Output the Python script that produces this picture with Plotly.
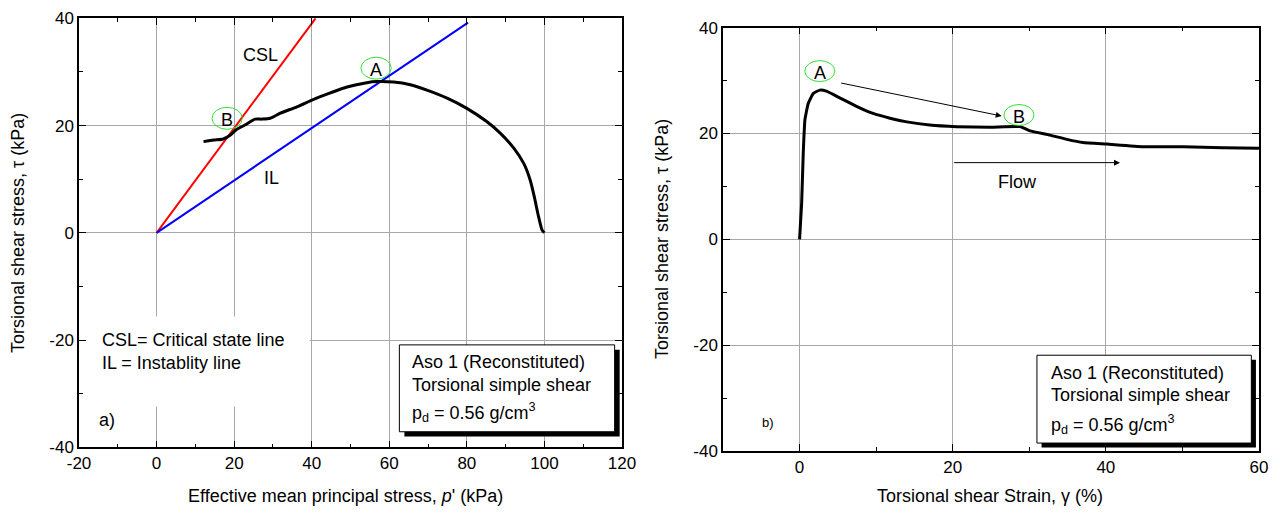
import plotly.graph_objects as go

# ---------------- data ----------------
# (a) stress path: effective mean principal stress p' (kPa) vs torsional shear stress tau (kPa)
path_p = [100.0, 99.4, 98.3, 97.4, 96.3, 94.7, 92.1, 88.6, 85.2, 80.0, 74.9, 69.7, 65.4, 61.1,
          56.8, 54.2, 49.1, 44.8, 40.5, 36.2, 31.9, 29.3, 27.1, 25.4, 22.8, 20.7, 18.96, 17.2,
          14.7, 12.1]
path_tau = [0.0, 0.5, 3.6, 6.7, 9.9, 12.9, 15.8, 18.6, 20.7, 23.2, 25.1, 26.6, 27.6, 28.1,
            28.2, 28.0, 27.2, 26.1, 24.9, 23.5, 22.3, 21.35, 21.2, 21.2, 20.1, 19.3, 18.2, 17.5,
            17.3, 17.0]
csl_p = [0, 41.0]
csl_tau = [0, 40.0]
il_p = [0, 80.3]
il_tau = [0, 39.2]

# (b) stress-strain: torsional shear strain gamma (%) vs tau (kPa)
strain = [0.0, 0.27, 0.48, 0.7, 1.14, 1.8, 2.66, 3.5, 5.3, 7.5, 9.6, 11.8, 14.0, 17.0, 20.5,
          24.9, 28.8, 30.1, 32.7, 34.9, 37.0, 40.1, 44.9, 50.1, 55.3, 60.0]
strain_tau = [0.0, 6.8, 16.3, 22.6, 25.7, 27.6, 28.2, 28.0, 26.7, 25.1, 23.8, 22.9, 22.2, 21.6,
              21.3, 21.2, 21.3, 20.5, 19.7, 18.9, 18.3, 18.0, 17.5, 17.5, 17.3, 17.2]

# tick labels (hyphen minus as in the original)
p_ticks = [-20, 0, 20, 40, 60, 80, 100, 120]
p_ticktext = ["-20", "0", "20", "40", "60", "80", "100", "120"]
tau_ticks = [-40, -20, 0, 20, 40]
tau_ticktext = ["-40", "-20", "0", "20", "40"]
strain_ticks = [0, 20, 40, 60]
strain_ticktext = ["0", "20", "40", "60"]

FONT = "Liberation Sans, Arial, sans-serif"
TICK_SIZE = 17
TITLE_SIZE = 18
TEXT_SIZE = 18

fig = go.Figure()
fig.add_trace(go.Scatter(x=csl_p, y=csl_tau, mode="lines", line=dict(color="#ff0000", width=2),
                         xaxis="x", yaxis="y", showlegend=False, hoverinfo="skip"))
fig.add_trace(go.Scatter(x=il_p, y=il_tau, mode="lines", line=dict(color="#0000ff", width=2),
                         xaxis="x", yaxis="y", showlegend=False, hoverinfo="skip"))
fig.add_trace(go.Scatter(x=path_p, y=path_tau, mode="lines",
                         line=dict(color="black", width=3, shape="spline", smoothing=0.6),
                         xaxis="x", yaxis="y", showlegend=False, hoverinfo="skip"))
fig.add_trace(go.Scatter(x=strain, y=strain_tau, mode="lines",
                         line=dict(color="black", width=3, shape="spline", smoothing=0.4),
                         xaxis="x2", yaxis="y2", showlegend=False, hoverinfo="skip"))

axis_common = dict(
    showline=True, linecolor="black", linewidth=1.5, mirror="ticks",
    ticks="inside", ticklen=7, tickwidth=1, tickcolor="black",
    showgrid=True, gridcolor="#a8a8a8", gridwidth=1, zeroline=False,
    tickfont=dict(family=FONT, size=TICK_SIZE, color="black"),
    automargin=False,
)
minor = dict(ticks="inside", ticklen=4, tickcolor="black", showgrid=False, dtick=10, tick0=0)

fig.update_layout(
    width=1280, height=513,
    margin=dict(l=0, r=0, t=0, b=0),
    paper_bgcolor="white", plot_bgcolor="white",
    font=dict(family=FONT, size=16, color="black"),
    xaxis=dict(axis_common, domain=[79 / 1280, 622 / 1280], anchor="y", range=[-20, 120],
               tickmode="array", tickvals=p_ticks, ticktext=p_ticktext, minor=minor),
    yaxis=dict(axis_common, domain=[1 - 447.3 / 513, 1 - 18.3 / 513], anchor="x", range=[-40, 40],
               tickmode="array", tickvals=tau_ticks, ticktext=tau_ticktext, minor=minor),
    xaxis2=dict(axis_common, domain=[723 / 1280, 1259 / 1280], anchor="y2", range=[-10, 60],
                tickmode="array", tickvals=strain_ticks, ticktext=strain_ticktext, minor=minor),
    yaxis2=dict(axis_common, domain=[1 - 451 / 513, 1 - 27.7 / 513], anchor="x2", range=[-40, 40],
                tickmode="array", tickvals=tau_ticks, ticktext=tau_ticktext, minor=minor),
)

shapes = []
# white area behind CSL/IL explanation text in (a)
shapes.append(dict(type="rect", xref="x", yref="y", x0=-19.6, x1=39.5, y0=-32.4, y1=-15.6,
                   fillcolor="white", line=dict(width=0), layer="between"))
# info box (a) with shadow
shapes.append(dict(type="rect", xref="x", yref="y", x0=63.9, x1=119.4, y0=-38.0, y1=-21.8,
                   fillcolor="black", line=dict(width=0), layer="above"))
shapes.append(dict(type="rect", xref="x", yref="y", x0=62.6, x1=118.1, y0=-37.1, y1=-20.9,
                   fillcolor="white", line=dict(color="black", width=1), layer="above"))
# info box (b) with shadow
shapes.append(dict(type="rect", xref="x2", yref="y2", x0=31.6, x1=59.6, y0=-39.35, y1=-22.75,
                   fillcolor="black", line=dict(width=0), layer="above"))
shapes.append(dict(type="rect", xref="x2", yref="y2", x0=31.0, x1=59.0, y0=-38.5, y1=-21.9,
                   fillcolor="white", line=dict(color="black", width=1), layer="above"))
# green ellipses
green = "#33e033"
for xr, yr, cx, cy, rx, ry in [("x", "y", 56.6, 30.7, 3.9, 2.05),
                               ("x", "y", 18.2, 21.35, 3.9, 2.05),
                               ("x2", "y2", 2.64, 31.8, 1.96, 1.98),
                               ("x2", "y2", 28.65, 23.5, 1.96, 1.98)]:
    shapes.append(dict(type="circle", xref=xr, yref=yr, x0=cx - rx, x1=cx + rx, y0=cy - ry, y1=cy + ry,
                       line=dict(color=green, width=1), fillcolor="rgba(0,0,0,0)", layer="above"))
fig.update_layout(shapes=shapes)

ann = []
def txt(x, y, s, xref="x", yref="y", size=TEXT_SIZE, xanchor="center", yanchor="middle", **kw):
    ann.append(dict(x=x, y=y, xref=xref, yref=yref, text=s, showarrow=False,
                    xanchor=xanchor, yanchor=yanchor,
                    font=dict(family=FONT, size=size, color="black"), **kw))

# panel (a) texts
txt(26.7, 33.2, "CSL")
txt(29.7, 10.2, "IL")
txt(56.6, 30.4, "A")
txt(18.2, 21.0, "B")
txt(-14.6, -19.9, "CSL= Critical state line", xanchor="left")
txt(-14.6, -24.3, "IL = Instablity line", xanchor="left")
txt(-15.4, -34.9, "a)", xanchor="left")
txt(65.4, -24.0, "Aso 1 (Reconstituted)", xanchor="left")
txt(65.4, -28.4, "Torsional simple shear", xanchor="left")
txt(65.4, -33.6, "p<sub>d</sub> = 0.56 g/cm<sup>3</sup>", xanchor="left")

# panel (b) texts
txt(2.64, 31.5, "A", xref="x2", yref="y2")
txt(28.65, 23.2, "B", xref="x2", yref="y2")
txt(28.5, 10.9, "Flow", xref="x2", yref="y2")
txt(-4.1, -34.6, "b)", xref="x2", yref="y2", size=13)
txt(32.6, -25.3, "Aso 1 (Reconstituted)", xref="x2", yref="y2", xanchor="left")
txt(32.6, -29.5, "Torsional simple shear", xref="x2", yref="y2", xanchor="left")
txt(32.6, -34.9, "p<sub>d</sub> = 0.56 g/cm<sup>3</sup>", xref="x2", yref="y2", xanchor="left")

# arrows in (b)
ann.append(dict(x=26.4, y=23.3, ax=5.24, ay=29.6, xref="x2", yref="y2", axref="x2", ayref="y2",
                text="", showarrow=True, arrowhead=2, arrowsize=1.2, arrowwidth=1, arrowcolor="black"))
ann.append(dict(x=41.85, y=14.5, ax=20.0, ay=14.5, xref="x2", yref="y2", axref="x2", ayref="y2",
                text="", showarrow=True, arrowhead=2, arrowsize=1.2, arrowwidth=1, arrowcolor="black"))

# axis titles
txt(345 / 1280, 1 - 496 / 513, "Effective mean principal stress, <i>p</i>' (kPa)", xref="paper",
    yref="paper", size=TITLE_SIZE)
txt(990 / 1280, 1 - 496 / 513, "Torsional shear Strain, γ (%)", xref="paper", yref="paper",
    size=TITLE_SIZE)
txt(18 / 1280, 1 - 233 / 513, "Torsional shear stress, τ (kPa)", xref="paper", yref="paper",
    textangle=-90, size=TITLE_SIZE)
txt(662 / 1280, 1 - 239 / 513, "Torsional shear stress, τ (kPa)", xref="paper", yref="paper",
    textangle=-90, size=TITLE_SIZE)

fig.update_layout(annotations=ann)
fig.write_html("out.html", config={"displayModeBar": False},
               post_script="document.body.style.margin='0px';")
